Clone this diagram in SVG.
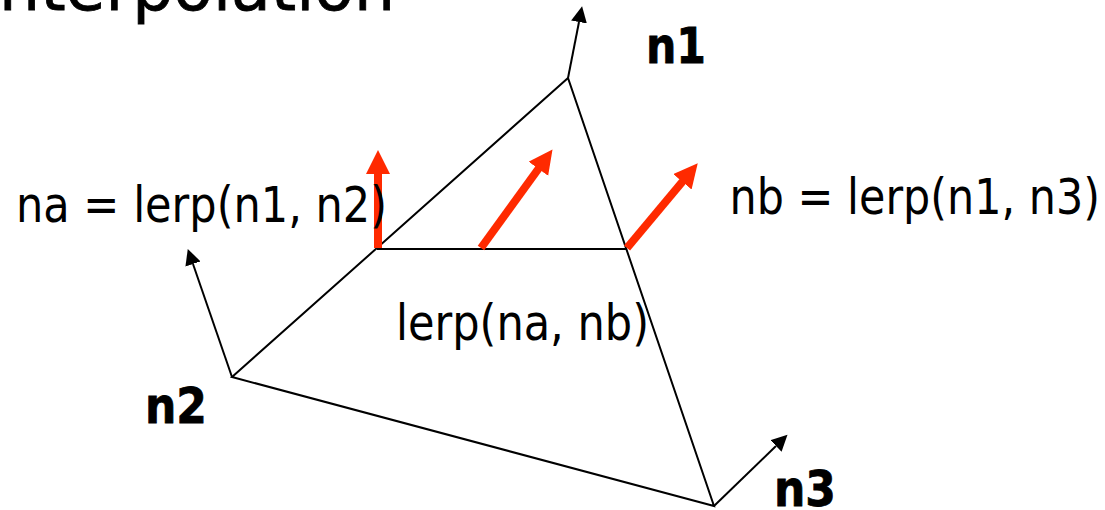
<svg xmlns="http://www.w3.org/2000/svg" width="1105" height="510" viewBox="0 0 1105 510">
<defs>
<marker id="b" markerUnits="userSpaceOnUse" markerWidth="18" markerHeight="18" refX="0" refY="8" orient="auto"><path d="M0 0L16 8L0 16Z" fill="#000"/></marker>
<marker id="r" markerUnits="userSpaceOnUse" markerWidth="28" markerHeight="26" refX="1" refY="12" orient="auto"><path d="M0 0L24 12L0 24Z" fill="#ff2a00"/></marker>
</defs>
<style>
text{font-family:"DejaVu Sans",sans-serif;fill:#000}
.t{font-size:50px}
.n{font-size:49px;font-weight:bold;stroke:#000;stroke-width:.8}
.l{stroke:#000;stroke-width:2;fill:none}
.a{stroke:#000;stroke-width:2;fill:none;marker-end:url(#b)}
.r{stroke:#ff2a00;stroke-width:8;fill:none;marker-end:url(#r)}
</style>
<g id="title"><text x="-19" y="10" style="font-size:65px;stroke:#000;stroke-width:.8" textLength="414" lengthAdjust="spacingAndGlyphs">interpolation</text></g>
<g id="connectors">
<path class="l" d="M568 78L232 377L714 506Z"/>
<path class="l" d="M377 249H627"/>
<path class="a" d="M568 78L579 22"/>
<path class="a" d="M232 377L193 264"/>
<path class="a" d="M714 506L776 446"/>
<path class="r" d="M378 248V173"/>
<path class="r" d="M481 248L539 168"/>
<path class="r" d="M627 248L683 181"/>
</g>
<g id="n1"><text class="n" x="646" y="63" textLength="60" lengthAdjust="spacingAndGlyphs">n1</text></g>
<g id="n2"><text class="n" x="145" y="423" textLength="62" lengthAdjust="spacingAndGlyphs">n2</text></g>
<g id="n3"><text class="n" x="774" y="506" textLength="62" lengthAdjust="spacingAndGlyphs">n3</text></g>
<g id="na"><text class="t" x="16" y="222" textLength="371" lengthAdjust="spacingAndGlyphs">na = lerp(n1, n2)</text></g>
<g id="nb"><text class="t" x="729.500" y="214" textLength="370.500" lengthAdjust="spacingAndGlyphs">nb = lerp(n1, n3)</text></g>
<g id="lerp"><text class="t" x="396" y="340" textLength="253" lengthAdjust="spacingAndGlyphs">lerp(na, nb)</text></g>
</svg>
